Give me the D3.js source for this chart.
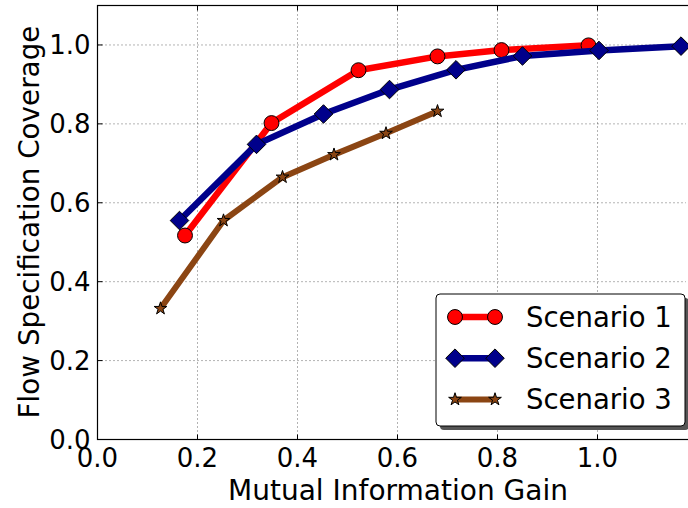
<!DOCTYPE html>
<html>
<head>
<meta charset="utf-8">
<script src="https://cdn.jsdelivr.net/npm/d3@7/dist/d3.min.js"></script>
<style>
  body { margin: 0; background: #fff; }
  svg { font-family: "DejaVu Sans", sans-serif; }
</style>
</head>
<body>
<svg id="chart" width="688" height="508"></svg>
<script>
// data
const s1X = [0.175, 0.348, 0.522, 0.680, 0.808, 0.982];
const s1Y = [0.517, 0.802, 0.936, 0.971, 0.987, 0.999];
const s2X = [0.164, 0.318, 0.452, 0.584, 0.717, 0.850, 1.003, 1.167];
const s2Y = [0.555, 0.748, 0.825, 0.887, 0.937, 0.972, 0.986, 0.997];
const s3X = [0.126, 0.252, 0.370, 0.473, 0.577, 0.680];
const s3Y = [0.332, 0.555, 0.665, 0.722, 0.776, 0.832];
const seriesNames = ["Scenario 1", "Scenario 2", "Scenario 3"];
const xTicks = [0.0, 0.2, 0.4, 0.6, 0.8, 1.0];
const yTicks = [0.0, 0.2, 0.4, 0.6, 0.8, 1.0];

const margin = {left: 97.5, right: 2, top: 5.5, bottom: 68.5};
const width = 688, height = 508;

const svg = d3.select("#chart");

const x = d3.scaleLinear()
    .domain([0, 1.177])
    .range([margin.left, width - margin.right]);
const y = d3.scaleLinear()
    .domain([0, 1.1])
    .range([height - margin.bottom, margin.top]);

const series = [
  {name: seriesNames[0], xs: s1X, ys: s1Y, color: "#ff0000", marker: "circle", size: 175, lw: 6.5},
  {name: seriesNames[1], xs: s2X, ys: s2Y, color: "#00008b", marker: "diamond", size: 220, lw: 6.5},
  {name: seriesNames[2], xs: s3X, ys: s3Y, color: "#8b4513", marker: "star", size: 50, lw: 6}
];

const symbolOf = m => m === "circle" ? d3.symbolCircle : (m === "diamond" ? d3.symbolDiamond2 : d3.symbolStar);

// GRID
svg.append("g").selectAll("line.gx")
    .data(xTicks.filter(d => d > 0))
    .join("line")
    .attr("x1", d => x(d)).attr("x2", d => x(d))
    .attr("y1", y(0)).attr("y2", y(1.1))
    .attr("stroke", "#000").attr("stroke-width", 0.6)
    .attr("stroke-dasharray", "1,3");
svg.append("g").selectAll("line.gy")
    .data(yTicks.filter(d => d > 0))
    .join("line")
    .attr("x1", x(0)).attr("x2", width - margin.right)
    .attr("y1", d => y(d)).attr("y2", d => y(d))
    .attr("stroke", "#000").attr("stroke-width", 0.6)
    .attr("stroke-dasharray", "1,3");

// LINES + MARKERS
const plot = svg.append("g");
series.forEach(s => {
  const pts = s.xs.map((v, i) => [v, s.ys[i]]);
  plot.append("path")
      .datum(pts)
      .attr("fill", "none")
      .attr("stroke", s.color)
      .attr("stroke-width", s.lw)
      .attr("stroke-linejoin", "round")
      .attr("d", d3.line().x(d => x(d[0])).y(d => y(d[1])));
  plot.selectAll(null)
      .data(pts)
      .join("path")
      .attr("transform", d => `translate(${x(d[0])},${y(d[1])})`)
      .attr("d", d3.symbol().type(symbolOf(s.marker)).size(s.size))
      .attr("fill", s.color)
      .attr("stroke", "#000")
      .attr("stroke-width", 1);
});

// FRAME
svg.append("rect")
    .attr("x", x(0)).attr("y", y(1.1))
    .attr("width", width - margin.right - x(0) + 4)
    .attr("height", y(0) - y(1.1))
    .attr("fill", "none").attr("stroke", "#000").attr("stroke-width", 1.2);

// TICKS (inward, all sides)
const tl = 5;
xTicks.forEach(t => {
  svg.append("line").attr("x1", x(t)).attr("x2", x(t)).attr("y1", y(0)).attr("y2", y(0) - tl).attr("stroke", "#000");
  svg.append("line").attr("x1", x(t)).attr("x2", x(t)).attr("y1", y(1.1)).attr("y2", y(1.1) + tl).attr("stroke", "#000");
});
yTicks.forEach(t => {
  svg.append("line").attr("x1", x(0)).attr("x2", x(0) + tl).attr("y1", y(t)).attr("y2", y(t)).attr("stroke", "#000");
});

// TICK LABELS
svg.append("g").selectAll("text")
    .data(xTicks)
    .join("text")
    .attr("x", d => x(d))
    .attr("y", y(0) + 27)
    .attr("text-anchor", "middle")
    .attr("font-size", 26)
    .text(d => d.toFixed(1));
svg.append("g").selectAll("text")
    .data(yTicks)
    .join("text")
    .attr("x", x(0) - 7)
    .attr("y", d => y(d) + 9)
    .attr("text-anchor", "end")
    .attr("font-size", 26)
    .text(d => d.toFixed(1));

// AXIS LABELS
svg.append("text")
    .attr("x", 398)
    .attr("y", 500)
    .attr("text-anchor", "middle")
    .attr("font-size", 28)
    .text("Mutual Information Gain");
svg.append("text")
    .attr("transform", `translate(39, 222) rotate(-90)`)
    .attr("text-anchor", "middle")
    .attr("font-size", 27.8)
    .text("Flow Specification Coverage");

// LEGEND
const lg = {x: 436, y: 294, w: 249, h: 132};
svg.append("rect")
    .attr("x", lg.x + 4).attr("y", lg.y + 4)
    .attr("width", lg.w).attr("height", lg.h)
    .attr("rx", 4).attr("fill", "#555");
svg.append("rect")
    .attr("x", lg.x).attr("y", lg.y)
    .attr("width", lg.w).attr("height", lg.h)
    .attr("rx", 4).attr("fill", "#fff")
    .attr("stroke", "#000").attr("stroke-width", 1);
series.forEach((s, i) => {
  const cy = lg.y + 23 + i * 41.2;
  svg.append("line")
      .attr("x1", 455).attr("x2", 495)
      .attr("y1", cy).attr("y2", cy)
      .attr("stroke", s.color).attr("stroke-width", s.lw);
  [455, 495].forEach(mx => {
    svg.append("path")
        .attr("transform", `translate(${mx},${cy})`)
        .attr("d", d3.symbol().type(symbolOf(s.marker)).size(s.size))
        .attr("fill", s.color).attr("stroke", "#000").attr("stroke-width", 1);
  });
  svg.append("text")
      .attr("x", 526).attr("y", cy + 10)
      .attr("font-size", 27.5)
      .text(s.name);
});
</script>
</body>
</html>
